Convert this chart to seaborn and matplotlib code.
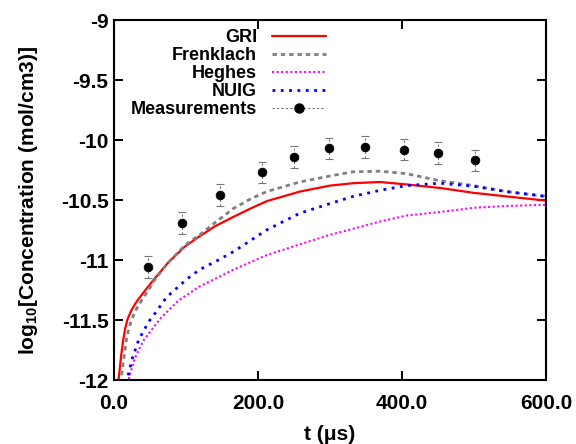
import matplotlib
matplotlib.use("Agg")
import matplotlib.pyplot as plt
import seaborn as sns
from matplotlib.lines import Line2D

# ---- data ----
gri_t = [5.6, 7.4, 9.7, 12.5, 15.5, 19, 24, 30, 36, 45, 53, 74, 98, 117, 140, 166, 190, 212, 258,
         300, 332, 369, 406, 453, 499, 545, 600]
gri_y = [-12.03, -11.94, -11.81, -11.68, -11.57, -11.49, -11.42, -11.36, -11.31, -11.24, -11.18,
         -11.03, -10.89, -10.81, -10.72, -10.64, -10.57, -10.51, -10.43, -10.38, -10.36, -10.35,
         -10.37, -10.40, -10.44, -10.47, -10.505]

frk_t = [10, 11, 14, 17, 19.5, 22.7, 26.5, 31, 40, 48, 56, 74, 98, 119, 140, 166, 190, 212, 258,
         300, 332, 369, 406, 453, 499, 545, 600]
frk_y = [-12.03, -11.94, -11.81, -11.67, -11.60, -11.53, -11.47, -11.41, -11.32, -11.25, -11.17,
         -11.03, -10.88, -10.79, -10.69, -10.57, -10.49, -10.43, -10.35, -10.30, -10.265, -10.26,
         -10.28, -10.34, -10.38, -10.43, -10.47]

heg_t = [19, 22.7, 29.6, 41, 50, 64, 89, 119, 166, 212, 258, 300, 332, 369, 406, 453, 499, 545, 600]
heg_y = [-12.03, -11.94, -11.81, -11.67, -11.60, -11.49, -11.34, -11.22, -11.08, -10.96, -10.87,
         -10.79, -10.74, -10.68, -10.63, -10.60, -10.565, -10.55, -10.54]

nuig_t = [18, 20.4, 26, 34, 42, 50, 60, 73, 101, 119, 145, 166, 212, 258, 300, 332, 369, 406,
          453, 499, 545, 600]
nuig_y = [-12.03, -11.94, -11.81, -11.67, -11.58, -11.50, -11.42, -11.31, -11.16, -11.08, -11.00,
          -10.93, -10.75, -10.61, -10.53, -10.47, -10.42, -10.38, -10.36, -10.385, -10.43, -10.47]

meas_t = [47, 94, 147, 205, 250, 299, 349, 403, 450, 502]
meas_y = [-11.06, -10.69, -10.46, -10.27, -10.14, -10.07, -10.06, -10.08, -10.11, -10.17]
meas_err = [0.09, 0.09, 0.09, 0.09, 0.09, 0.09, 0.09, 0.09, 0.09, 0.09]

series_labels = ["GRI", "Frenklach", "Heghes", "NUIG", "Measurements"]
x_ticks = [0, 200, 400, 600]
y_ticks = [-9, -9.5, -10, -10.5, -11, -11.5, -12]

# ---- style ----
sns.set_style("ticks")
plt.rcParams["font.family"] = ["Liberation Sans", "DejaVu Sans"]
plt.rcParams["font.weight"] = "bold"
plt.rcParams["axes.labelweight"] = "bold"
plt.rcParams["text.color"] = "black"
plt.rcParams["axes.labelcolor"] = "black"
plt.rcParams["axes.edgecolor"] = "black"
plt.rcParams["xtick.color"] = "black"
plt.rcParams["ytick.color"] = "black"
plt.rcParams["mathtext.fontset"] = "custom"
plt.rcParams["mathtext.rm"] = "Liberation Sans:bold"
plt.rcParams["mathtext.it"] = "Liberation Sans:bold"
plt.rcParams["mathtext.bf"] = "Liberation Sans:bold"

fig = plt.figure(figsize=(5.76, 4.44), dpi=100)
ax = fig.add_axes([114 / 576, 1 - 380 / 444, 432 / 576, 360 / 444])

sns.lineplot(x=gri_t, y=gri_y, ax=ax, color="#ff0000", linewidth=1.6, label=series_labels[0], legend=False)
sns.lineplot(x=frk_t, y=frk_y, ax=ax, color="#808080", linewidth=2.0, linestyle=(0, (1.6, 1.4)),
             label=series_labels[1], legend=False)
sns.lineplot(x=heg_t, y=heg_y, ax=ax, color="#ff00ff", linewidth=1.5, linestyle=(0, (1, 1.2)),
             label=series_labels[2], legend=False)
sns.lineplot(x=nuig_t, y=nuig_y, ax=ax, color="#0000ff", linewidth=2.0, linestyle=(0, (1, 2.0)),
             label=series_labels[3], legend=False)

eb = ax.errorbar(meas_t, meas_y, yerr=meas_err, fmt="none", ecolor="#777777", elinewidth=0.8,
                 capsize=2.6, capthick=0.8)
for lc in eb[2]:
    lc.set_linestyle((0, (2, 2)))
sns.scatterplot(x=meas_t, y=meas_y, ax=ax, color="black", s=40, edgecolor="black", zorder=5, legend=False)

ax.set_xlim(0, 600)
ax.set_ylim(-12, -9)
ax.set_xticks(x_ticks)
ax.set_xticklabels([f"{v:.1f}" for v in x_ticks])
ax.set_yticks(y_ticks)
ax.set_yticklabels([f"{v:g}" for v in y_ticks])
ax.tick_params(axis="both", direction="in", length=6.5, width=1.4, labelsize=15,
               top=True, right=True, colors="black")
ax.tick_params(axis="x", pad=10)
ax.tick_params(axis="y", pad=4)
for s in ax.spines.values():
    s.set_linewidth(1.5)
    s.set_color("black")
    s.set_visible(True)

ax.set_xlabel("t (μs)", fontsize=15, fontweight="bold", labelpad=9)
ax.set_ylabel(r"log$_{10}$[Concentration (mol/cm3)]", fontsize=15, fontweight="bold", labelpad=15)

lines = ax.get_lines()[:4]
meas_handle = Line2D([], [], color="#777777", linestyle=(0, (2, 2)), linewidth=0.8,
                     marker="o", markerfacecolor="black", markeredgecolor="black", markersize=6.5)
leg = ax.legend(lines + [meas_handle], series_labels, loc="upper right",
                bbox_to_anchor=(0.490, 0.975), frameon=False, markerfirst=False,
                fontsize=13, handlelength=3.0, handletextpad=0.8, labelspacing=0.06,
                borderpad=0, borderaxespad=0)
for t in leg.get_texts():
    t.set_fontweight("bold")
    t.set_color("black")

fig.savefig("out.png", dpi=100)
